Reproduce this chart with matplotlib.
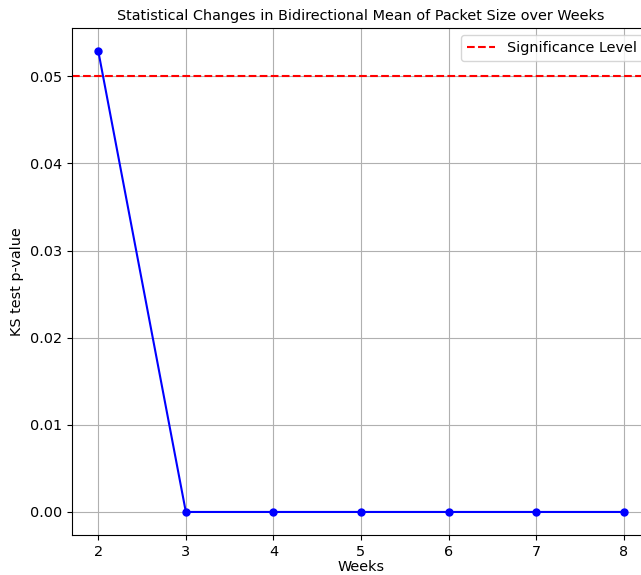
import matplotlib
matplotlib.use('Agg')
import matplotlib.pyplot as plt

# data
weeks = [2, 3, 4, 5, 6, 7, 8]
p_values = [0.0529, 0.0, 0.0, 0.0, 0.0, 0.0, 0.0]
significance = 0.05

fs = 10.4

fig = plt.figure(figsize=(6.41, 5.75), dpi=100)
# axes runs slightly past the right edge, as in the reference
ax = fig.add_axes([72 / 641, 40 / 575, 578 / 641, 507 / 575])

ax.plot(weeks, p_values, marker='o', color='blue', linestyle='-', markersize=5)
ax.axhline(y=significance, color='red', linestyle='--', label='Significance Level')

ax.set_title('Statistical Changes in Bidirectional Mean of Packet Size over Weeks', fontsize=fs)
ax.set_xlabel('Weeks', fontsize=fs, labelpad=1)
ax.set_ylabel('KS test p-value', fontsize=fs)
ax.tick_params(labelsize=fs)
ax.legend(loc='upper right', fontsize=fs)
ax.grid(True)

fig.savefig('out.png', dpi=100)
